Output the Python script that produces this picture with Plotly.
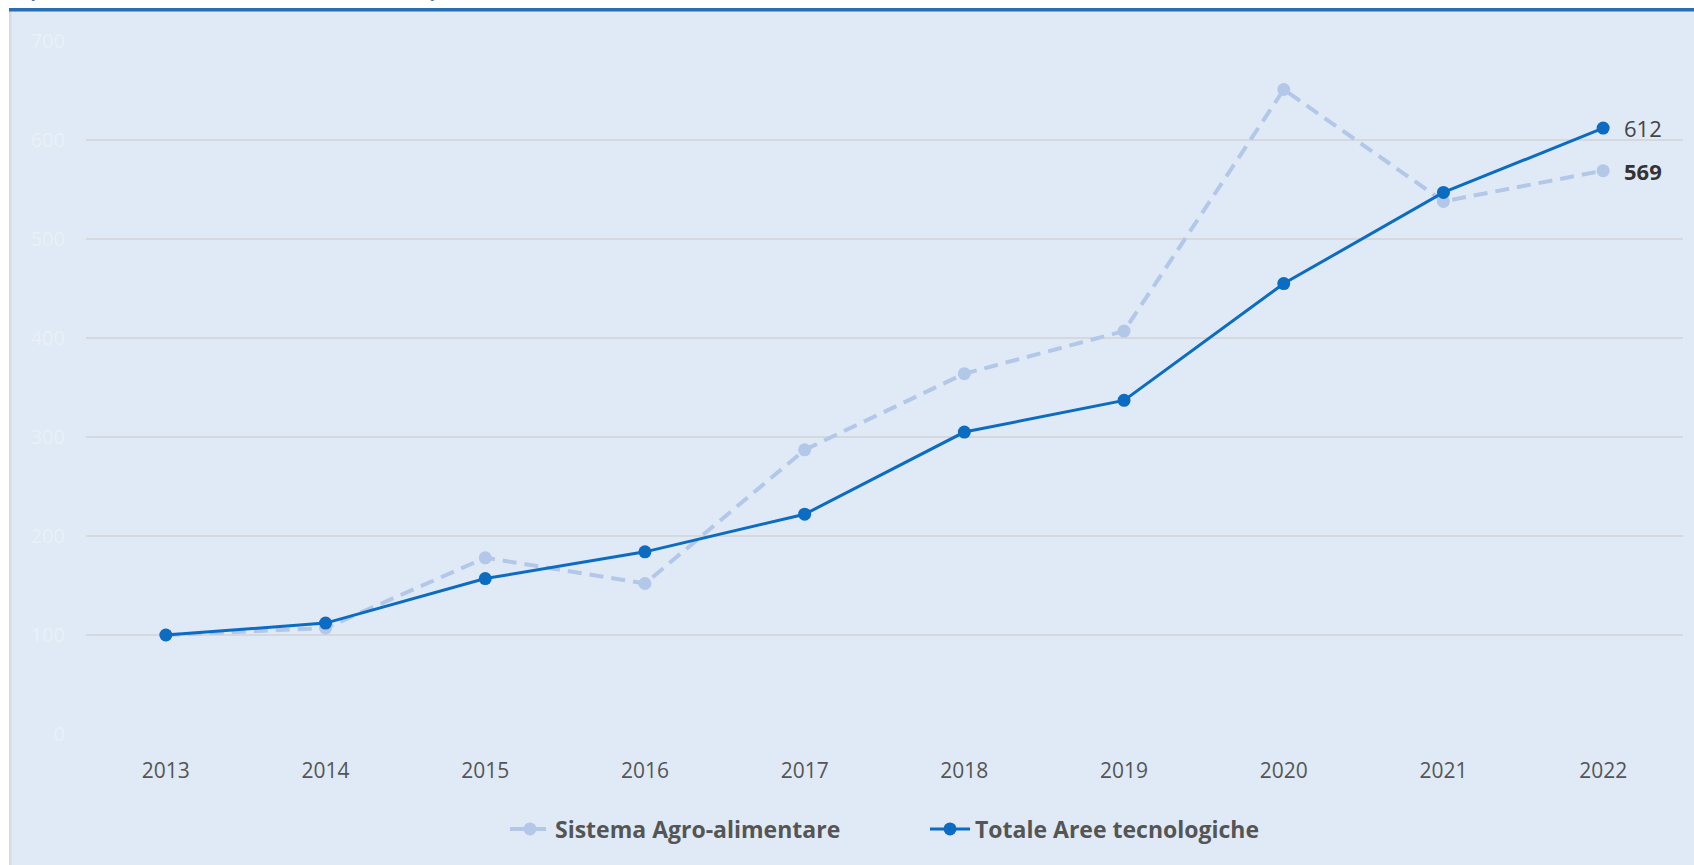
import plotly.graph_objects as go

# Numeri indice, base 2013 = 100
anni = ["2013", "2014", "2015", "2016", "2017", "2018", "2019", "2020", "2021", "2022"]
agro_alimentare = [100, 107, 178, 152, 287, 364, 407, 651, 538, 569]
totale_aree = [100, 112, 157, 184, 222, 305, 337, 455, 547, 612]
y_ticks = [0, 100, 200, 300, 400, 500, 600, 700]

W, H = 1694, 865
L, R, T, B = 86, 11, 41, 131
PW, PH = W - L - R, H - T - B


def fx(px):
    return (px - L) / PW


def fy(py):
    return (H - B - py) / PH


BG = "#dfeaf6"
BLU = "#0b6cc1"
AZZ = "#b3c7e8"

fig = go.Figure()

fig.add_trace(go.Scatter(
    x=anni, y=agro_alimentare,
    name="Sistema Agro-alimentare",
    mode="lines+markers",
    line=dict(color=AZZ, width=4, dash="14px,8px"),
    marker=dict(color=AZZ, size=13),
))
fig.add_trace(go.Scatter(
    x=anni, y=totale_aree,
    name="Totale Aree tecnologiche",
    mode="lines+markers",
    line=dict(color=BLU, width=3),
    marker=dict(color=BLU, size=13),
))

# etichette finali (indice di categoria dell'ultimo anno)
ultimo = len(anni) - 1
fig.add_annotation(x=ultimo, y=totale_aree[-1], text=str(totale_aree[-1]),
                   xanchor="left", xshift=19, showarrow=False,
                   font=dict(family="Open Sans", size=22, color="#444444"))
fig.add_annotation(x=ultimo, y=agro_alimentare[-1], text="<b>%d</b>" % agro_alimentare[-1],
                   xanchor="left", xshift=19, showarrow=False,
                   font=dict(family="Open Sans", size=22, color="#333333"))

# titolo tagliato in alto
fig.add_annotation(xref="paper", yref="paper", x=fx(26), y=fy(5.5),
                   xanchor="left", yanchor="bottom", showarrow=False,
                   text="<b>(numeri indice, anno base 2013 = 100)</b>",
                   font=dict(family="Open Sans", size=22, color="#1f4f8f"))

# cornice
fig.add_shape(type="rect", xref="paper", yref="paper", layer="below",
              x0=fx(0), x1=fx(9), y0=fy(H), y1=fy(0),
              fillcolor="white", line_width=0)
fig.add_shape(type="rect", xref="paper", yref="paper", layer="below",
              x0=fx(0), x1=fx(W), y0=fy(8), y1=fy(0),
              fillcolor="white", line_width=0)
fig.add_shape(type="rect", xref="paper", yref="paper", layer="below",
              x0=fx(9), x1=fx(11.5), y0=fy(H), y1=fy(11),
              fillcolor="#d6dbe1", line_width=0)
fig.add_shape(type="rect", xref="paper", yref="paper", layer="below",
              x0=fx(9), x1=fx(W), y0=fy(11.5), y1=fy(8),
              fillcolor="#2b6db3", line_width=0)

fig.update_layout(
    width=W, height=H,
    margin=dict(l=L, r=R, t=T, b=B),
    paper_bgcolor=BG, plot_bgcolor=BG,
    font=dict(family="Open Sans", color="#555555"),
    showlegend=True,
    legend=dict(orientation="h", x=fx(505), xanchor="left", y=fy(829), yanchor="middle",
                font=dict(family="Open Sans", size=23, color="#555555", weight="bold"),
                bgcolor="rgba(0,0,0,0)", entrywidth=365, itemwidth=40),
    xaxis=dict(type="category", range=[-0.5, 9.5], showgrid=False, zeroline=False,
               showline=False, ticks="", ticklabelstandoff=22,
               tickfont=dict(family="Open Sans", size=21, color="#555555")),
    yaxis=dict(range=[0, 700], tickvals=y_ticks, showgrid=True, gridcolor="#d5d9de",
               gridwidth=2, zeroline=False, showline=False, ticks="",
               ticklabelstandoff=20,
               tickfont=dict(family="Open Sans", size=20, color="#eaf0f7")),
)

fig.write_html("out.html", config={"displayModeBar": False},
               post_script="document.body.style.margin='0px';")
